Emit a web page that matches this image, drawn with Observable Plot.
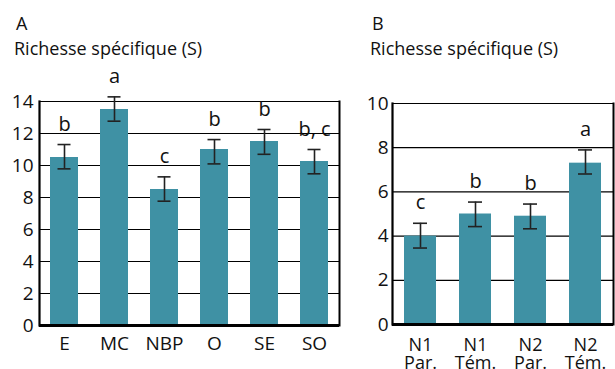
<!DOCTYPE html>
<html><head><meta charset="utf-8">
<script src="https://cdn.jsdelivr.net/npm/d3@7"></script>
<script src="https://cdn.jsdelivr.net/npm/@observablehq/plot@0.6"></script>
<style>
body{margin:0;background:#fff;font-family:"Open Sans",sans-serif;}
#wrap{position:relative;width:615px;height:369px;overflow:hidden;}
.pl{position:absolute;top:0;}
.lab{position:absolute;font-size:18px;color:#111;line-height:1;white-space:nowrap;}
</style></head>
<body><div id="wrap"></div>
<script>
// Panel A
const catsA = ["E","MC","NBP","O","SE","SO"];
const meanA = [10.5,13.5,8.5,11.0,11.5,10.25];
const loA   = [9.79,12.77,7.77,10.1,10.7,9.48];
const hiA   = [11.31,14.29,9.29,11.62,12.25,11.0];
const letA  = ["b","a","c","b","b","b, c"];
const ticksA = [0,2,4,6,8,10,12,14];
// Panel B
const catsB = ["N1\nPar.","N1\nTém.","N2\nPar.","N2\nTém."];
const meanB = [4.0,5.0,4.9,7.3];
const loB   = [3.46,4.43,4.33,6.81];
const hiB   = [4.58,5.54,5.45,7.9];
const letB  = ["c","b","b","a"];
const ticksB = [0,2,4,6,8,10];
const titleTxt = "Richesse spécifique (S)";
const col = "#3f91a4";

const dataA = catsA.map((c,i)=>({c,m:meanA[i],lo:loA[i],hi:hiA[i],l:letA[i]}));
const dataB = catsB.map((c,i)=>({c,m:meanB[i],lo:loB[i],hi:hiB[i],l:letB[i]}));

function panel(data, cats, ticks, ymax, o){
  return Plot.plot({
    width:o.w, height:369,
    marginLeft:o.ml, marginRight:o.mr, marginTop:o.mt, marginBottom:o.mb,
    style:{fontFamily:"Open Sans, sans-serif", fontSize:"19px", color:"#111", background:"transparent", overflow:"visible"},
    x:{domain:cats, paddingInner:o.pi, paddingOuter:o.po, label:null, tickSize:0, tickPadding:o.xpad},
    y:{domain:[0,ymax], ticks:ticks, label:null, tickSize:0, tickPadding:o.ypad},
    marks:[
      Plot.ruleY(ticks,{stroke:"#000",strokeWidth:1.2}),
      Plot.barY(data,{x:"c",y:"m",fill:col}),
      Plot.ruleX(data,{x:"c",y1:"lo",y2:"hi",stroke:"#222",strokeWidth:1.6}),
      Plot.tickY(data,{x:"c",y:"lo",stroke:"#222",strokeWidth:1.6,insetLeft:o.cap,insetRight:o.cap}),
      Plot.tickY(data,{x:"c",y:"hi",stroke:"#222",strokeWidth:1.6,insetLeft:o.cap,insetRight:o.cap}),
      Plot.text(data,{x:"c",y:"hi",text:"l",dy:-14,lineAnchor:"bottom",fontSize:20,fill:"#111"}),
      Plot.axisY({ticks:ticks, tickSize:0, tickPadding:o.ypad, fontSize:19, label:null}),
      Plot.axisX({tickSize:0, tickPadding:o.xpad, fontSize:o.xfs, label:null, lineHeight:o.lh}),
      Plot.frame({anchor:"right",stroke:"#000",strokeWidth:2}),
      Plot.frame({anchor:"left",stroke:"#000",strokeWidth:2.2}),
      Plot.ruleY([0],{stroke:"#000",strokeWidth:3})
    ]
  });
}

const wrap = document.getElementById("wrap");
const pA = panel(dataA, catsA, ticksA, 14, {w:350, ml:39, mr:11, mt:101, mb:44, pi:0.44, po:0.22, cap:7.5, xpad:11, ypad:6, xfs:19, lh:1});
pA.classList.add("pl"); pA.style.left="0px";
wrap.appendChild(pA);
const pB = panel(dataB, catsB, ticksB, 10, {w:265, ml:42, mr:2, mt:103, mb:45, pi:0.42, po:0.21, cap:9, xpad:14, ypad:4, xfs:18, lh:1.0});
pB.classList.add("pl"); pB.style.left="350px";
wrap.appendChild(pB);

function lab(t,x,y){const d=document.createElement("div");d.className="lab";d.textContent=t;d.style.left=x+"px";d.style.top=y+"px";wrap.appendChild(d);}
lab("A",16,14); lab(titleTxt,14,39);
lab("B",372,14); lab(titleTxt,370,39);
</script></body></html>
